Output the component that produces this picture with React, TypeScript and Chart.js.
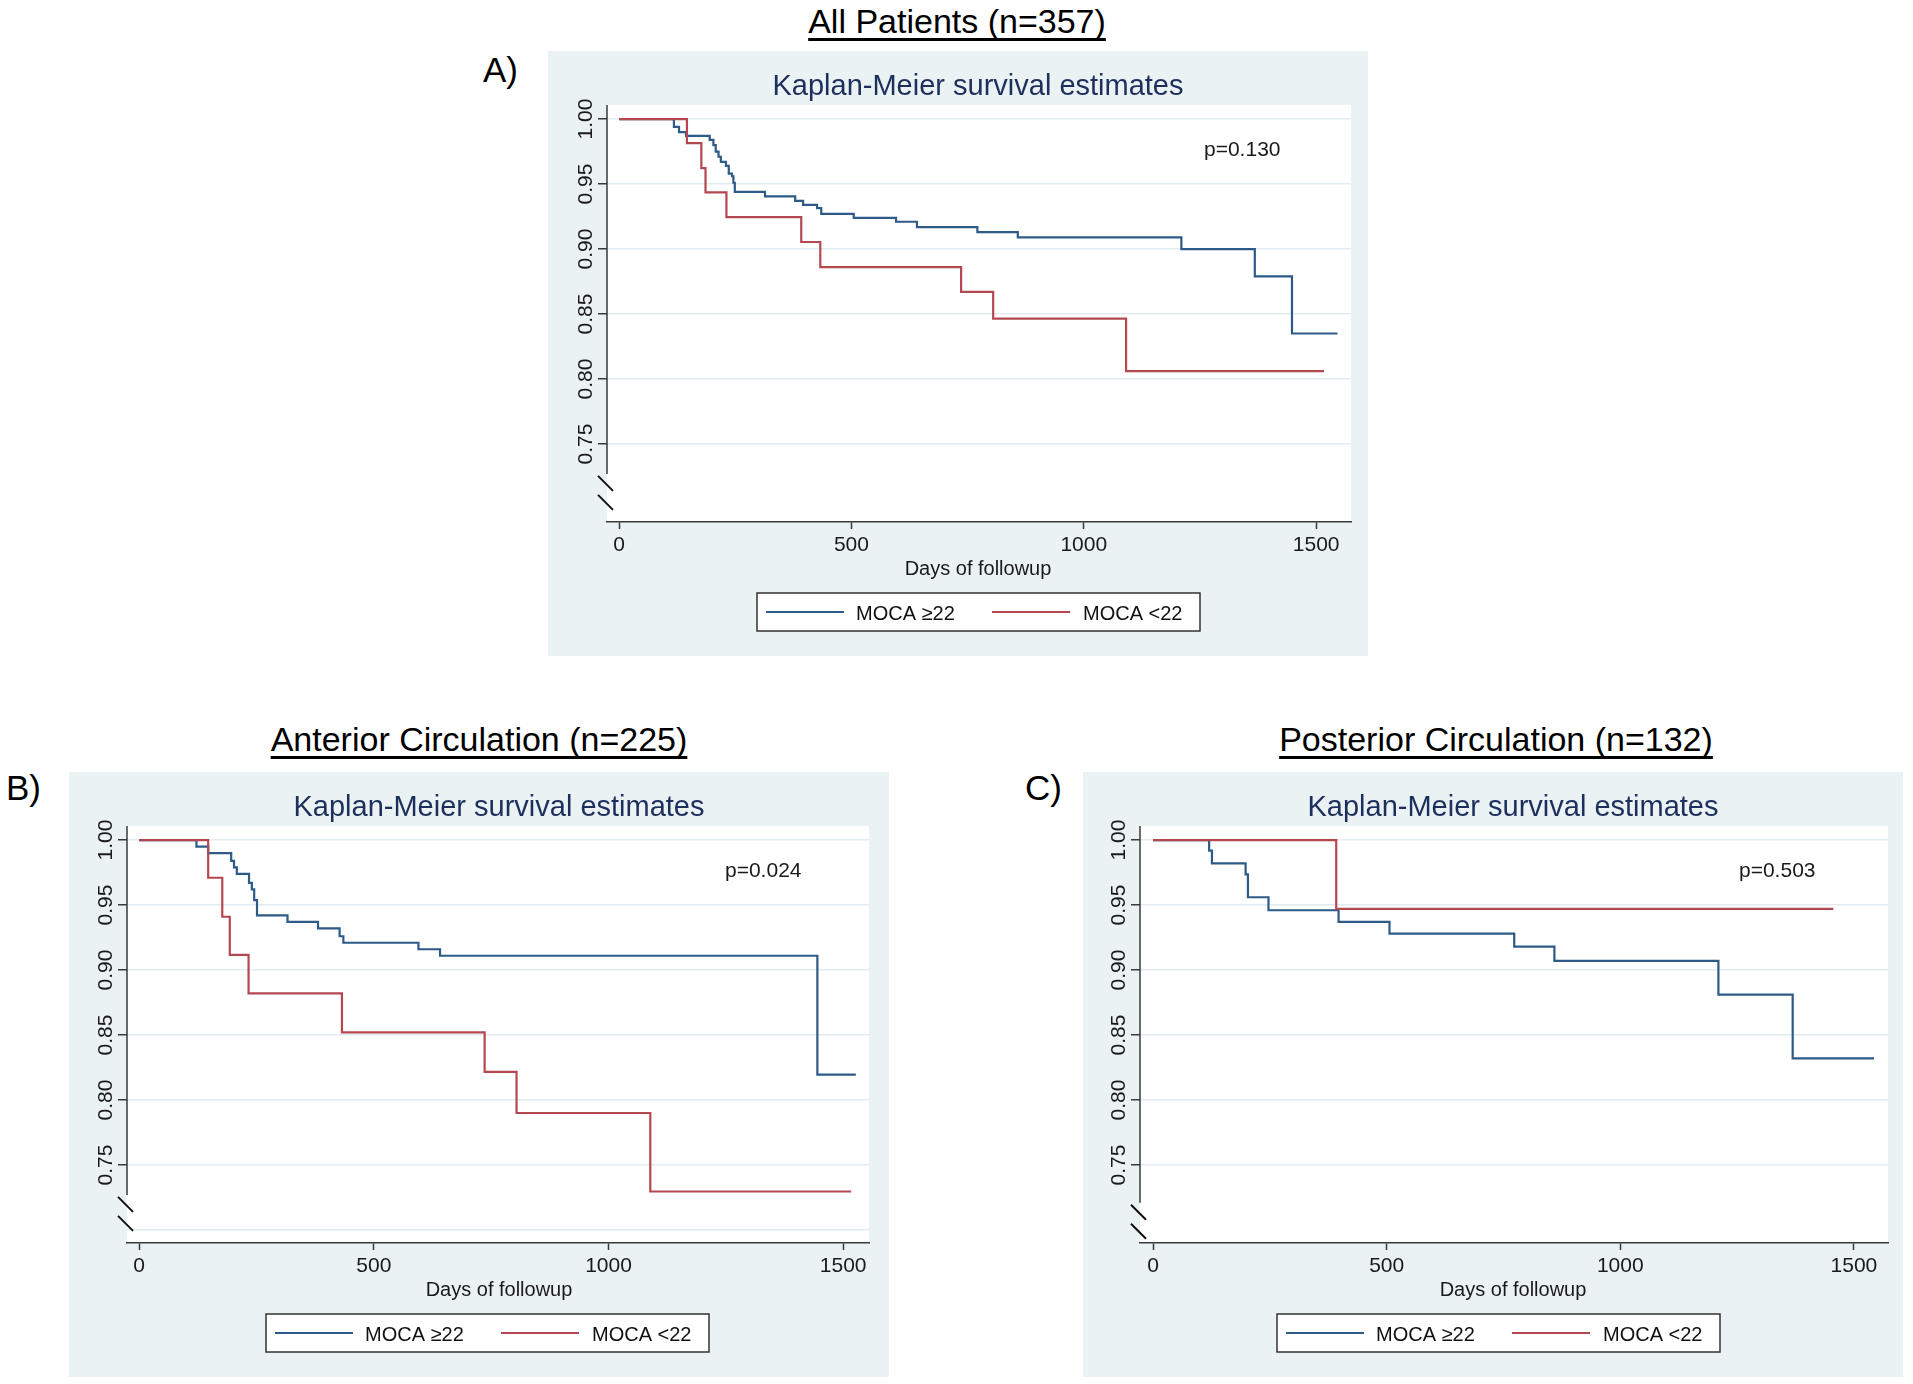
import React, { useEffect, useRef } from 'react';
import { Chart, registerables } from 'chart.js';

Chart.register(...registerables);

// ---------------- DATA ----------------
// Panel A: All Patients (n=357)
const allHighDays = [0, 118, 129, 144, 195, 203, 208, 214, 219, 230, 236, 243, 246, 249, 314, 379, 396, 426, 435, 505, 596, 641, 771, 858, 1210, 1368, 1448, 1546];
const allHighSurv = [1.0, 0.994, 0.99, 0.987, 0.984, 0.98, 0.975, 0.971, 0.967, 0.964, 0.958, 0.956, 0.951, 0.944, 0.9405, 0.937, 0.934, 0.9315, 0.927, 0.924, 0.921, 0.9168, 0.913, 0.909, 0.9, 0.879, 0.835, 0.835];
const allLowDays = [0, 146, 177, 186, 231, 392, 433, 736, 805, 1091, 1517];
const allLowSurv = [1.0, 0.9815, 0.9623, 0.9436, 0.9246, 0.9054, 0.886, 0.867, 0.8464, 0.806, 0.806];

// Panel B: Anterior Circulation (n=225)
const antHighDays = [0, 122, 147, 196, 202, 208, 234, 240, 245, 251, 316, 381, 427, 435, 595, 641, 1445, 1527];
const antHighSurv = [1.0, 0.995, 0.99, 0.984, 0.979, 0.974, 0.967, 0.962, 0.9537, 0.942, 0.937, 0.932, 0.926, 0.921, 0.916, 0.911, 0.8195, 0.8195];
const antLowDays = [0, 147, 177, 193, 233, 432, 736, 804, 1089, 1517];
const antLowSurv = [1.0, 0.971, 0.941, 0.9116, 0.882, 0.852, 0.8216, 0.79, 0.7296, 0.7296];

// Panel C: Posterior Circulation (n=132)
const postHighDays = [0, 120, 126, 198, 203, 247, 397, 506, 773, 859, 1210, 1369, 1543];
const postHighSurv = [1.0, 0.9918, 0.982, 0.9736, 0.956, 0.946, 0.937, 0.928, 0.918, 0.907, 0.881, 0.832, 0.832];
const postLowDays = [0, 392, 1456];
const postLowSurv = [1.0, 0.947, 0.947];

// Axes / labels
const xTickValues = [0, 500, 1000, 1500];
const xTickLabels = ['0', '500', '1000', '1500'];
const yTickValues = [0.75, 0.8, 0.85, 0.9, 0.95, 1.0];
const yTickLabels = ['0.75', '0.80', '0.85', '0.90', '0.95', '1.00'];
const yGridAB = [0.75, 0.8, 0.85, 0.9, 0.95, 1.0];
const yGridB = [0.7, 0.75, 0.8, 0.85, 0.9, 0.95, 1.0];
const seriesLabels = ['MOCA \u226522', 'MOCA <22'];
const kmTitle = 'Kaplan-Meier survival estimates';
const xAxisTitle = 'Days of followup';
const pValues = ['p=0.130', 'p=0.024', 'p=0.503'];
const panelHeaders = ['All Patients (n=357)', 'Anterior Circulation (n=225)', 'Posterior Circulation (n=132)'];
const panelLetters = ['A)', 'B)', 'C)'];

// ---------------- STYLE ----------------
const FONT = '"Liberation Sans", Arial, Helvetica, sans-serif';
const BLUE = '#2d5a87';
const RED = '#b34850';
const PANEL_BG = '#eaf2f3';
const GRID = '#e2ebef';
const AXIS = '#3a3a3a';
const TITLE_COLOR = '#1d2f5c';
const PANEL_W = 820;
const PANEL_H = 605;
const PLOT_TOP = 54;
const PLOT_BOTTOM = 471;
const Y_MIN = 0.69;
const Y_MAX = 1.0108;

type PanelCfg = {
  left: number;
  top: number;
  plotLeft: number;
  plotRight: number;
  xMin: number;
  xMax: number;
  yGrid: number[];
  yAxisEnd: number;
  legendLeft: number;
  pText: string;
  highDays: number[];
  highSurv: number[];
  lowDays: number[];
  lowSurv: number[];
};

const panels: PanelCfg[] = [
  {
    left: 548, top: 51, plotLeft: 59, plotRight: 803, xMin: -26, xMax: 1575,
    yGrid: yGridAB, yAxisEnd: 0.727, legendLeft: 209, pText: pValues[0],
    highDays: allHighDays, highSurv: allHighSurv, lowDays: allLowDays, lowSurv: allLowSurv,
  },
  {
    left: 69, top: 772, plotLeft: 58, plotRight: 800, xMin: -26, xMax: 1555,
    yGrid: yGridB, yAxisEnd: 0.727, legendLeft: 197, pText: pValues[1],
    highDays: antHighDays, highSurv: antHighSurv, lowDays: antLowDays, lowSurv: antLowSurv,
  },
  {
    left: 1083, top: 772, plotLeft: 57, plotRight: 805, xMin: -28, xMax: 1573,
    yGrid: yGridAB, yAxisEnd: 0.721, legendLeft: 194, pText: pValues[2],
    highDays: postHighDays, highSurv: postHighSurv, lowDays: postLowDays, lowSurv: postLowSurv,
  },
];

function toPoints(days: number[], surv: number[]) {
  return days.map((d, i) => ({ x: d, y: surv[i] }));
}

function KMPanel({ cfg }: { cfg: PanelCfg }) {
  const ref = useRef<HTMLCanvasElement | null>(null);

  useEffect(() => {
    const canvas = ref.current;
    if (!canvas) return;

    const statPlugin = {
      id: 'stataPanel',
      beforeDraw(chart: any) {
        const { ctx, chartArea: ca, width, height } = chart;
        ctx.save();
        ctx.fillStyle = PANEL_BG;
        ctx.fillRect(0, 0, width, height);
        ctx.fillStyle = '#ffffff';
        ctx.fillRect(ca.left, ca.top, ca.right - ca.left, ca.bottom - ca.top);
        ctx.restore();
      },
      afterDraw(chart: any) {
        const { ctx, chartArea: ca } = chart;
        const ys = chart.scales.y;
        ctx.save();
        // y axis line (stops above the break)
        const yEnd = ys.getPixelForValue(cfg.yAxisEnd);
        ctx.strokeStyle = AXIS;
        ctx.lineWidth = 1.5;
        ctx.beginPath();
        ctx.moveTo(ca.left, ca.top);
        ctx.lineTo(ca.left, yEnd);
        ctx.stroke();
        // break marks
        ctx.strokeStyle = '#111111';
        ctx.lineWidth = 2;
        ctx.beginPath();
        ctx.moveTo(ca.left - 9, yEnd + 2);
        ctx.lineTo(ca.left + 6, yEnd + 17);
        ctx.moveTo(ca.left - 9, yEnd + 21);
        ctx.lineTo(ca.left + 6, yEnd + 36);
        ctx.stroke();
        // y tick labels (rotated, Stata style)
        ctx.fillStyle = '#1a1a1a';
        ctx.font = `21px ${FONT}`;
        ctx.textAlign = 'center';
        ctx.textBaseline = 'alphabetic';
        yTickValues.forEach((v, i) => {
          const py = ys.getPixelForValue(v);
          ctx.save();
          ctx.translate(ca.left - 15, py);
          ctx.rotate(-Math.PI / 2);
          ctx.fillText(yTickLabels[i], 0, 0);
          ctx.restore();
        });
        // chart title
        ctx.fillStyle = TITLE_COLOR;
        ctx.font = `29px ${FONT}`;
        ctx.textAlign = 'center';
        ctx.fillText(kmTitle, 430, 44);
        // x axis title
        ctx.fillStyle = '#1a1a1a';
        ctx.font = `20px ${FONT}`;
        ctx.fillText(xAxisTitle, 430, 524);
        // p value
        ctx.textAlign = 'left';
        ctx.font = `21px ${FONT}`;
        ctx.fillText(cfg.pText, 656, 105);
        // legend
        const lx = cfg.legendLeft;
        const ly = 542;
        ctx.fillStyle = '#ffffff';
        ctx.fillRect(lx, ly, 443, 38);
        ctx.strokeStyle = '#333333';
        ctx.lineWidth = 1.5;
        ctx.strokeRect(lx, ly, 443, 38);
        ctx.lineWidth = 2;
        ctx.strokeStyle = BLUE;
        ctx.beginPath();
        ctx.moveTo(lx + 9, ly + 19);
        ctx.lineTo(lx + 87, ly + 19);
        ctx.stroke();
        ctx.strokeStyle = RED;
        ctx.beginPath();
        ctx.moveTo(lx + 235, ly + 19);
        ctx.lineTo(lx + 313, ly + 19);
        ctx.stroke();
        ctx.fillStyle = '#111111';
        ctx.font = `20px ${FONT}`;
        ctx.textAlign = 'left';
        ctx.fillText(seriesLabels[0], lx + 99, ly + 26.5);
        ctx.fillText(seriesLabels[1], lx + 326, ly + 26.5);
        ctx.restore();
      },
    };

    const chart = new Chart(canvas, {
      type: 'line',
      data: {
        datasets: [
          {
            label: seriesLabels[0],
            data: toPoints(cfg.highDays, cfg.highSurv),
            borderColor: BLUE,
            borderWidth: 2.2,
            pointRadius: 0,
            stepped: 'before',
            fill: false,
            order: 1,
          },
          {
            label: seriesLabels[1],
            data: toPoints(cfg.lowDays, cfg.lowSurv),
            borderColor: RED,
            borderWidth: 2.2,
            pointRadius: 0,
            stepped: 'before',
            fill: false,
            order: 0,
          },
        ],
      },
      options: {
        responsive: false,
        animation: false,
        devicePixelRatio: 1,
        events: [],
        layout: {
          padding: { left: 0, top: PLOT_TOP, right: PANEL_W - cfg.plotRight, bottom: 0 },
        },
        plugins: {
          legend: { display: false },
          title: { display: false },
          tooltip: { enabled: false },
        },
        scales: {
          x: {
            type: 'linear',
            min: cfg.xMin,
            max: cfg.xMax,
            afterBuildTicks: (s: any) => {
              s.ticks = xTickValues.map((v) => ({ value: v }));
            },
            afterFit: (s: any) => {
              s.height = PANEL_H - PLOT_BOTTOM;
            },
            border: { display: true, color: AXIS, width: 1.5 },
            grid: {
              drawOnChartArea: false,
              drawTicks: true,
              tickLength: 7,
              tickColor: AXIS,
              tickWidth: 1.5,
            },
            ticks: {
              autoSkip: false,
              maxRotation: 0,
              minRotation: 0,
              padding: 4,
              color: '#1a1a1a',
              font: { family: FONT, size: 21 },
              callback: (v: any) => {
                const i = xTickValues.indexOf(Number(v));
                return i >= 0 ? xTickLabels[i] : '';
              },
            },
          },
          y: {
            type: 'linear',
            min: Y_MIN,
            max: Y_MAX,
            afterBuildTicks: (s: any) => {
              s.ticks = cfg.yGrid.map((v) => ({ value: v }));
            },
            afterFit: (s: any) => {
              s.width = cfg.plotLeft;
            },
            border: { display: false },
            grid: {
              color: GRID,
              lineWidth: 1.5,
              drawTicks: true,
              tickLength: 9,
              tickWidth: 1.5,
              tickColor: (c: any) => (c.tick && c.tick.value < 0.745 ? 'rgba(0,0,0,0)' : AXIS),
            },
            ticks: { display: false },
          },
        },
      },
      plugins: [statPlugin],
    } as any);

    return () => chart.destroy();
  }, [cfg]);

  return (
    <div style={{ position: 'absolute', left: cfg.left, top: cfg.top, width: PANEL_W, height: PANEL_H }}>
      <canvas ref={ref} width={PANEL_W} height={PANEL_H} style={{ display: 'block', width: PANEL_W, height: PANEL_H }} />
    </div>
  );
}

function TextAt({ text, x, baseline, size, align, underline }: { text: string; x: number; baseline: number; size: number; align: 'left' | 'center'; underline?: boolean }) {
  const top = baseline - 0.8465 * size;
  const style: React.CSSProperties = {
    position: 'absolute',
    top,
    left: x,
    fontFamily: FONT,
    fontSize: size,
    lineHeight: `${size}px`,
    color: '#000',
    whiteSpace: 'nowrap',
  };
  if (underline) {
    style.textDecorationLine = 'underline';
    style.textDecorationThickness = '2.5px';
    style.textUnderlineOffset = '5px';
    (style as any).textDecorationSkipInk = 'none';
  }
  if (align === 'center') {
    style.transform = 'translateX(-50%)';
  }
  return <div style={style}>{text}</div>;
}

export default function App() {
  useEffect(() => {
    document.body.style.margin = '0';
  }, []);
  return (
    <div style={{ position: 'absolute', left: 0, top: 0, width: 1913, height: 1384, background: '#ffffff', overflow: 'hidden' }}>
      <TextAt text={panelHeaders[0]} x={957} baseline={33} size={34} align="center" underline />
      <TextAt text={panelHeaders[1]} x={479} baseline={751} size={34} align="center" underline />
      <TextAt text={panelHeaders[2]} x={1496} baseline={751} size={34} align="center" underline />
      <TextAt text={panelLetters[0]} x={483} baseline={82} size={35} align="left" />
      <TextAt text={panelLetters[1]} x={6} baseline={800} size={35} align="left" />
      <TextAt text={panelLetters[2]} x={1025} baseline={800} size={35} align="left" />
      {panels.map((p, i) => (
        <KMPanel key={i} cfg={p} />
      ))}
    </div>
  );
}
